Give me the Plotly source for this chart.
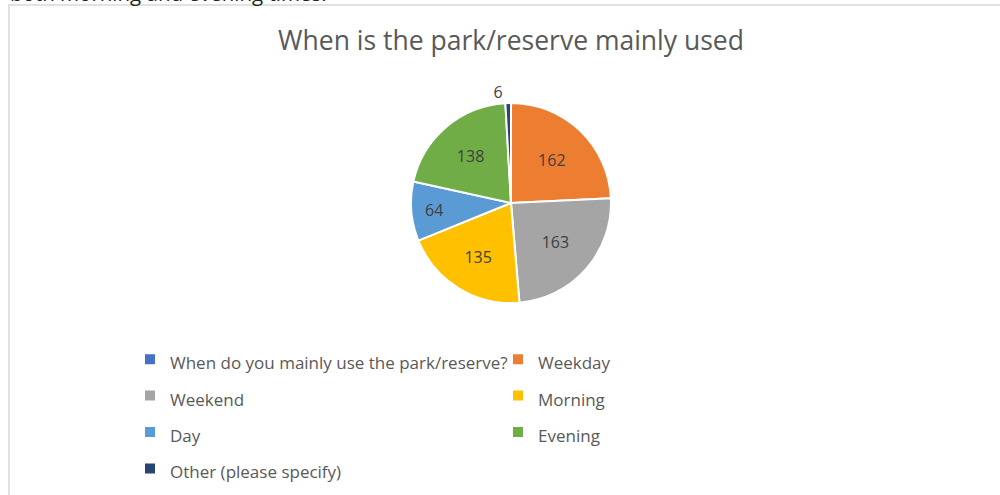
import plotly.graph_objects as go

# Survey responses: when the park/reserve is mainly used
categories = [
    "When do you mainly use the park/reserve?",
    "Weekday",
    "Weekend",
    "Morning",
    "Day",
    "Evening",
    "Other (please specify)",
]
responses = [0, 162, 163, 135, 64, 138, 6]
slice_colors = ["#4472C4", "#ED7D31", "#A5A5A5", "#FFC000", "#5B9BD5", "#70AD47", "#264478"]

W, H = 1000, 495
FONT = "Open Sans"

# pie placement in pixels (centre and radius)
cx, cy, r = 511, 203, 100
dom_h = 260

# small slices get their value outside, zero slices get no label
text_pos = ["none" if v == 0 else ("outside" if v < 20 else "inside") for v in responses]

# legend names rendered smaller than the legend font so the rows get Office-like spacing
legend_names = ['<span style="font-size:17px">%s</span>' % c for c in categories]

fig = go.Figure(
    go.Pie(
        labels=legend_names,
        values=responses,
        sort=False,
        direction="clockwise",
        rotation=0,
        marker=dict(colors=slice_colors, line=dict(color="white", width=2)),
        textinfo="value",
        textposition=text_pos,
        insidetextorientation="horizontal",
        insidetextfont=dict(family=FONT, size=16, color="#404040"),
        outsidetextfont=dict(family=FONT, size=16, color="#404040"),
        domain=dict(
            x=[(cx - r) / W, (cx + r) / W],
            y=[(H - cy - dom_h / 2) / H, (H - cy + dom_h / 2) / H],
        ),
        hovertemplate="%{value}<extra></extra>",
    )
)

fig.update_layout(
    width=W,
    height=H,
    margin=dict(l=0, r=0, t=0, b=0),
    paper_bgcolor="white",
    plot_bgcolor="white",
    font=dict(family=FONT, color="#595959"),
    title=dict(
        text="When is the park/reserve mainly used",
        font=dict(family=FONT, size=26.5, color="#595959"),
        x=511 / W,
        xanchor="center",
        y=1 - 41 / H,
        yanchor="middle",
    ),
    showlegend=True,
    legend=dict(
        orientation="h",
        x=130 / W,
        xanchor="left",
        y=(H - 336) / H,
        yanchor="top",
        entrywidth=323,
        entrywidthmode="pixels",
        font=dict(family=FONT, size=25.7, color="#595959"),
        bgcolor="rgba(0,0,0,0)",
        traceorder="normal",
    ),
    shapes=[
        # chart frame
        dict(
            type="rect", xref="paper", yref="paper",
            x0=9 / W, x1=1.02, y0=-0.02, y1=(H - 5) / H,
            line=dict(color="#e2e2e2", width=2), fillcolor="rgba(0,0,0,0)",
        )
    ],
    annotations=[
        # tail of the document sentence above the chart
        dict(
            text="both morning and evening times.",
            xref="paper", yref="paper",
            x=8 / W, xanchor="left",
            y=(H - 9) / H, yanchor="bottom",
            showarrow=False,
            font=dict(family=FONT, size=20.5, color="#222222"),
        )
    ],
)

fig.write_html("out.html")
